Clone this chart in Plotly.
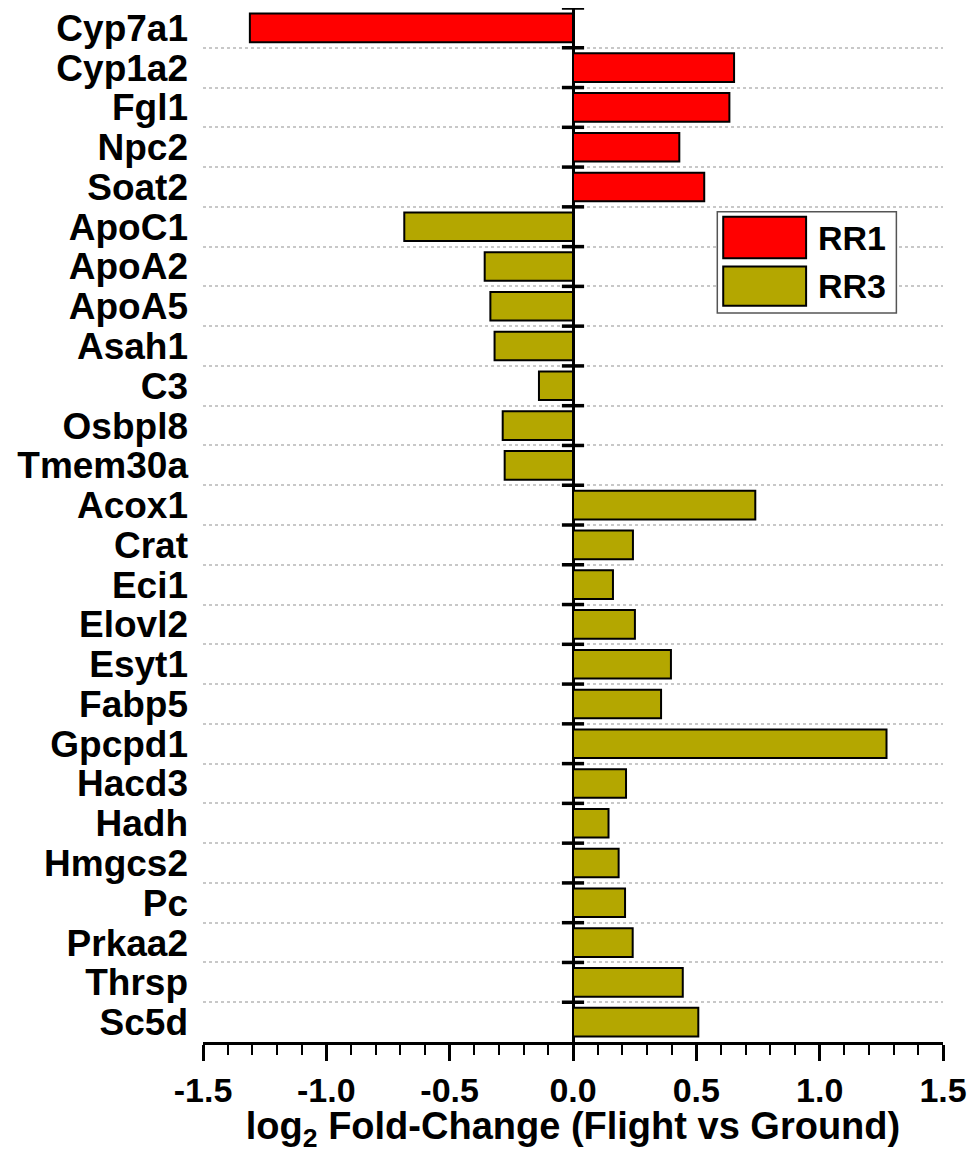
import plotly.graph_objects as go

# Genes and log2 fold-change (Flight vs Ground), top to bottom
rr1_genes = ["Cyp7a1", "Cyp1a2", "Fgl1", "Npc2", "Soat2"]
rr1_values = [-1.31, 0.653, 0.634, 0.431, 0.532]

rr3_genes = ["ApoC1", "ApoA2", "ApoA5", "Asah1", "C3", "Osbpl8", "Tmem30a",
             "Acox1", "Crat", "Eci1", "Elovl2", "Esyt1", "Fabp5", "Gpcpd1",
             "Hacd3", "Hadh", "Hmgcs2", "Pc", "Prkaa2", "Thrsp", "Sc5d"]
rr3_values = [-0.684, -0.358, -0.335, -0.318, -0.138, -0.285, -0.277,
              0.739, 0.243, 0.162, 0.251, 0.397, 0.357, 1.271,
              0.215, 0.144, 0.185, 0.211, 0.242, 0.445, 0.508]

x_tick_values = [-1.5, -1.0, -0.5, 0.0, 0.5, 1.0, 1.5]
x_tick_labels = ["-1.5", "-1.0", "-0.5", "0.0", "0.5", "1.0", "1.5"]

series_names = ["RR1", "RR3"]
series_colors = ["#FF0000", "#B4A700"]

all_genes = rr1_genes + rr3_genes
FONT = "Liberation Sans, Arial, sans-serif"

fig = go.Figure()
for name, genes, vals, color in [
    (series_names[0], rr1_genes, rr1_values, series_colors[0]),
    (series_names[1], rr3_genes, rr3_values, series_colors[1]),
]:
    fig.add_trace(go.Bar(
        name=name, y=genes, x=vals, orientation="h", width=0.72,
        marker=dict(color=color, line=dict(color="black", width=2)),
        showlegend=False,
    ))

n = len(all_genes)

# short cross ticks on the zero line at each row boundary
for i in range(n):
    fig.add_shape(type="line", xref="x", yref="y",
                  x0=-0.045, x1=0.045, y0=i - 0.5, y1=i - 0.5,
                  line=dict(color="black", width=3.5), layer="above")

# legend box with swatches
fig.add_shape(type="rect", xref="paper", yref="paper",
              x0=0.695, x1=0.937, y0=0.705, y1=0.803,
              line=dict(color="#555555", width=1.5), fillcolor="white",
              layer="above")
swatch_rows = [(0.758, 0.798, 0.778), (0.712, 0.750, 0.731)]
for (y0, y1, yc), name, color in zip(swatch_rows, series_names, series_colors):
    fig.add_shape(type="rect", xref="paper", yref="paper",
                  x0=0.703, x1=0.815, y0=y0, y1=y1,
                  line=dict(color="black", width=2), fillcolor=color,
                  layer="above")
    fig.add_annotation(xref="paper", yref="paper", x=0.828, y=yc,
                       text=name, showarrow=False, xanchor="left",
                       yanchor="middle",
                       font=dict(family=FONT, size=34, color="black",
                                 weight="bold"))

fig.update_layout(
    width=974, height=1153,
    margin=dict(l=203, r=31, t=8, b=111),
    plot_bgcolor="white", paper_bgcolor="white",
    barmode="overlay", bargap=0.28,
    font=dict(family=FONT, color="black", weight="bold"),
)

fig.update_xaxes(
    range=[-1.5, 1.5],
    tickmode="array", tickvals=x_tick_values, ticktext=x_tick_labels,
    ticks="outside", ticklen=16, tickwidth=2.5, tickcolor="black",
    showline=True, linecolor="black", linewidth=2.5,
    showgrid=False,
    zeroline=True, zerolinecolor="black", zerolinewidth=3,
    minor=dict(tickmode="linear", tick0=-1.5, dtick=0.1, ticks="outside",
               ticklen=10, tickwidth=2, tickcolor="black", showgrid=False),
    tickfont=dict(family=FONT, size=34, color="black", weight="bold"),
    title=dict(text="log<sub>2</sub> Fold-Change (Flight vs Ground)",
               font=dict(family=FONT, size=38, color="black", weight="bold"),
               standoff=6),
)

fig.update_yaxes(
    type="category", categoryorder="array", categoryarray=all_genes,
    range=[n - 0.5, -0.5],
    tickmode="linear", tick0=0, dtick=1,
    tickson="boundaries", ticks="", showline=False, zeroline=False,
    showgrid=True, gridcolor="#C8C8C8", griddash="dot", gridwidth=1.5,
    ticklabelstandoff=14,
    tickfont=dict(family=FONT, size=37, color="black", weight="bold"),
)

fig.write_html("out.html")
